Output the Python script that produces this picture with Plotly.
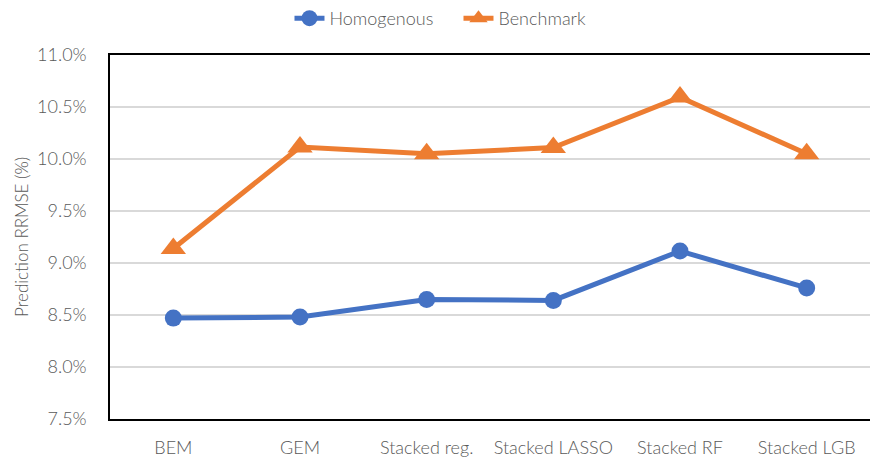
import plotly.graph_objects as go

categories = ["BEM", "GEM", "Stacked reg.", "Stacked LASSO", "Stacked RF", "Stacked LGB"]
homogenous = [8.47, 8.48, 8.65, 8.64, 9.115, 8.76]
benchmark = [9.14, 10.115, 10.05, 10.11, 10.595, 10.05]
y_ticks = [7.5, 8.0, 8.5, 9.0, 9.5, 10.0, 10.5, 11.0]
y_tick_labels = ["7.5%", "8.0%", "8.5%", "9.0%", "9.5%", "10.0%", "10.5%", "11.0%"]

font_family = "Lato"
grey = "#595959"

fig = go.Figure()
fig.add_trace(go.Scatter(
    x=list(range(len(categories))), y=homogenous, name="Homogenous",
    mode="lines+markers",
    line=dict(color="#4472C4", width=5),
    marker=dict(symbol="circle", size=17, color="#4472C4"),
))
fig.add_trace(go.Scatter(
    x=list(range(len(categories))), y=benchmark, name="Benchmark",
    mode="lines+markers",
    line=dict(color="#ED7D31", width=5),
    marker=dict(symbol="triangle-up", size=22, color="#ED7D31"),
))

fig.update_layout(
    width=870, height=457,
    margin=dict(l=110, r=0, t=55, b=38, autoexpand=False),
    plot_bgcolor="white", paper_bgcolor="white",
    font=dict(family=font_family, size=18, color=grey, weight=300),
    showlegend=True,
    legend=dict(orientation="h", x=0.527, xref="container", xanchor="center",
                y=1.0, yref="container", yanchor="top",
                entrywidth=124, entrywidthmode="pixels",
                font=dict(size=18, color=grey, weight=300),
                traceorder="normal"),
    xaxis=dict(
        range=[-0.5, 5.5], tickmode="array",
        tickvals=list(range(len(categories))), ticktext=categories,
        showgrid=False, zeroline=False, automargin=False,
        showline=True, linecolor="black", linewidth=1.5, mirror=True,
        ticks="", tickfont=dict(size=18, color=grey, weight=300), ticklabelstandoff=12,
    ),
    yaxis=dict(
        range=[7.5, 11.0], tickmode="array", tickvals=y_ticks, ticktext=y_tick_labels,
        showgrid=True, gridcolor="#D9D9D9", gridwidth=1.5, zeroline=False, automargin=False,
        showline=True, linecolor="black", linewidth=1.5, mirror=False,
        ticks="", tickfont=dict(size=18, color=grey, weight=300), ticklabelstandoff=18,
        title=dict(text="Prediction RRMSE (%)", font=dict(size=17, color=grey, weight=300), standoff=4),
    ),
)

fig.write_html("out.html", config={"displayModeBar": False},
               post_script="document.body.style.margin='0';document.body.style.overflow='hidden';")
